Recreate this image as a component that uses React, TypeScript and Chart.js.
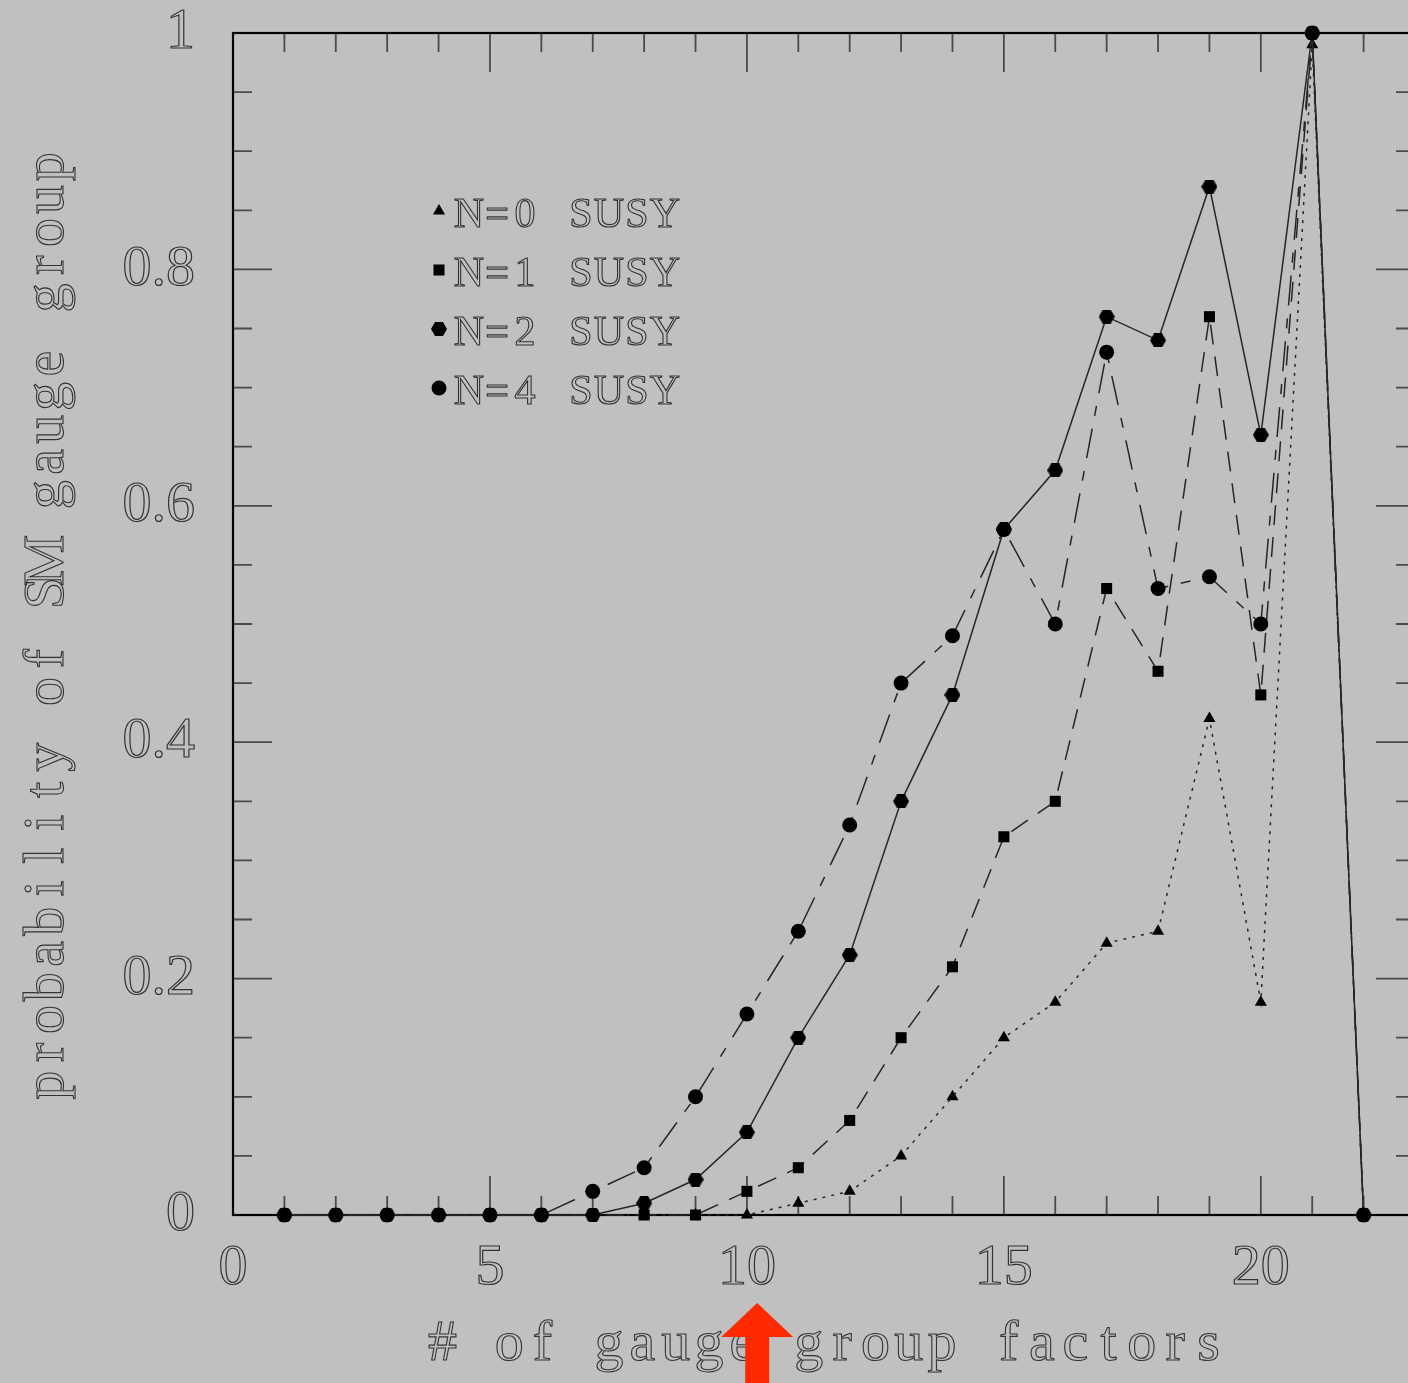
import React, { useEffect, useRef } from 'react';
import { Chart, registerables } from 'chart.js';
import { drawPoint } from 'chart.js/helpers';

Chart.register(...registerables);

// Number of gauge group factors on the horizontal axis
const factorCounts = [1, 2, 3, 4, 5, 6, 7, 8, 9, 10, 11, 12, 13, 14, 15, 16, 17, 18, 19, 20, 21, 22];

// Probability of obtaining the SM gauge group, per supersymmetry
const susyN0 = [0, 0, 0, 0, 0, 0, 0, 0, 0, 0, 0.01, 0.02, 0.05, 0.10, 0.15, 0.18, 0.23, 0.24, 0.42, 0.18, 0.99, 0];
const susyN1 = [0, 0, 0, 0, 0, 0, 0, 0, 0, 0.02, 0.04, 0.08, 0.15, 0.21, 0.32, 0.35, 0.53, 0.46, 0.76, 0.44, 1.0, 0];
const susyN2 = [0, 0, 0, 0, 0, 0, 0, 0.01, 0.03, 0.07, 0.15, 0.22, 0.35, 0.44, 0.58, 0.63, 0.76, 0.74, 0.87, 0.66, 1.0, 0];
const susyN4 = [0, 0, 0, 0, 0, 0, 0.02, 0.04, 0.10, 0.17, 0.24, 0.33, 0.45, 0.49, 0.58, 0.50, 0.73, 0.53, 0.54, 0.50, 1.0, 0];

const seriesLabels = ['N=0 SUSY', 'N=1 SUSY', 'N=2 SUSY', 'N=4 SUSY'];

const xTickValues = [0, 5, 10, 15, 20];
const yTickValues = [0, 0.2, 0.4, 0.6, 0.8, 1];
const xRange = [0, 23];
const yRange = [0, 1];
const xMinorStep = 1;
const yMinorStep = 0.05;

const xTitle = '# of gauge group factors';
const yTitle = 'probability of SM gauge group';

// marker for the highlighted factor count
const arrowValue = 10.2;

const W = 1432;
const H = 1383;
const SERIF = '"Liberation Serif", "DejaVu Serif", serif';
const INK = '#333333';

function makeHexagon(): HTMLCanvasElement {
  const c = document.createElement('canvas');
  c.width = 16;
  c.height = 14;
  const g = c.getContext('2d')!;
  const r = 8;
  const cx = 8;
  const cy = 7;
  g.fillStyle = '#000';
  g.beginPath();
  for (let k = 0; k < 6; k++) {
    const a = (Math.PI / 3) * k;
    const px = cx + r * Math.cos(a);
    const py = cy + r * Math.sin(a);
    if (k === 0) g.moveTo(px, py);
    else g.lineTo(px, py);
  }
  g.closePath();
  g.fill();
  return c;
}

// draws a string one glyph per fixed-width cell
function spacedText(ctx: CanvasRenderingContext2D, text: string, cx: number, baseline: number, pitch: number) {
  const n = text.length;
  const start = cx - ((n - 1) * pitch) / 2;
  for (let i = 0; i < n; i++) {
    const ch = text[i];
    if (ch === ' ') continue;
    ctx.strokeText(ch, start + i * pitch, baseline);
  }
}

const framePlugin = {
  id: 'frameTicks',
  beforeDatasetsDraw(chart: any) {
    const { ctx, chartArea: a, scales } = chart;
    const xs = scales.x;
    const ys = scales.y;
    const major = 39;
    const minor = 19;
    ctx.save();
    ctx.strokeStyle = '#4a4a4a';
    ctx.lineWidth = 1.8;
    ctx.beginPath();
    for (let v = xRange[0]; v <= xRange[1] + 1e-9; v += xMinorStep) {
      const px = xs.getPixelForValue(v);
      const len = xTickValues.includes(v) ? major : minor;
      ctx.moveTo(px, a.top);
      ctx.lineTo(px, a.top + len);
      ctx.moveTo(px, a.bottom);
      ctx.lineTo(px, a.bottom - len);
    }
    const steps = Math.round((yRange[1] - yRange[0]) / yMinorStep);
    for (let k = 0; k <= steps; k++) {
      const v = yRange[0] + k * yMinorStep;
      const py = ys.getPixelForValue(v);
      const isMajor = yTickValues.some((t) => Math.abs(t - v) < 1e-6);
      const len = isMajor ? major : minor;
      ctx.moveTo(a.left, py);
      ctx.lineTo(a.left + len, py);
      ctx.moveTo(a.right, py);
      ctx.lineTo(a.right - len, py);
    }
    ctx.stroke();
    ctx.strokeStyle = '#000';
    ctx.lineWidth = 2.2;
    ctx.strokeRect(a.left, a.top, a.right - a.left, a.bottom - a.top);
    ctx.restore();
  },
  afterDraw(chart: any) {
    const { ctx, scales } = chart;
    ctx.save();
    ctx.strokeStyle = INK;
    ctx.lineWidth = 1.1;
    ctx.textAlign = 'center';
    ctx.textBaseline = 'alphabetic';

    // legend
    ctx.font = `42px ${SERIF}`;
    chart.data.datasets.forEach((ds: any, i: number) => {
      const y = 211 + i * 59;
      ctx.fillStyle = '#000';
      drawPoint(ctx, { pointStyle: ds.pointStyle, radius: ds.pointRadius, rotation: 0, borderWidth: 0 } as any, 439, y);
      const label: string = ds.label;
      const pitch = 28;
      const cx = 469 + ((label.length - 1) * pitch) / 2;
      spacedText(ctx, label, cx, y + 16, pitch);
    });

    // axis titles
    ctx.font = `58px ${SERIF}`;
    spacedText(ctx, xTitle, 825.5, 1360, 33.3);
    ctx.save();
    ctx.translate(63, 626);
    ctx.rotate(-Math.PI / 2);
    spacedText(ctx, yTitle, 0, 0, 32.8);
    ctx.restore();

    // arrow
    const ax = scales.x.getPixelForValue(arrowValue);
    ctx.fillStyle = '#ff2a00';
    ctx.beginPath();
    ctx.moveTo(ax, 1303);
    ctx.lineTo(ax + 36, 1337);
    ctx.lineTo(ax + 12, 1337);
    ctx.lineTo(ax + 12, H + 2);
    ctx.lineTo(ax - 12, H + 2);
    ctx.lineTo(ax - 12, 1337);
    ctx.lineTo(ax - 36, 1337);
    ctx.closePath();
    ctx.fill();
    ctx.restore();
  },
};

function toPoints(values: number[]) {
  return values.map((v, i) => ({ x: factorCounts[i], y: v }));
}

export default function App() {
  const ref = useRef<HTMLCanvasElement | null>(null);

  useEffect(() => {
    if (!ref.current) return;
    const hex = makeHexagon();
    const lineColor = '#262626';
    const common = {
      borderColor: lineColor,
      borderWidth: 1.5,
      pointBackgroundColor: '#000',
      pointBorderWidth: 0,
      pointHoverRadius: 0,
      tension: 0,
      clip: false as any,
      fill: false,
    };
    const tickFont = { family: SERIF, size: 58, lineHeight: 1 };

    const chart = new Chart(ref.current, {
      type: 'line',
      data: {
        datasets: [
          { ...common, label: seriesLabels[0], data: toPoints(susyN0), borderDash: [3, 6], pointStyle: 'triangle', pointRadius: 7, order: 4 },
          { ...common, label: seriesLabels[1], data: toPoints(susyN1), borderDash: [20, 12], pointStyle: 'rect', pointRadius: 7.8, order: 3 },
          { ...common, label: seriesLabels[2], data: toPoints(susyN2), borderDash: [], pointStyle: hex as any, pointRadius: 8, order: 2 },
          { ...common, label: seriesLabels[3], data: toPoints(susyN4), borderDash: [30, 13, 10, 13], pointStyle: 'circle', pointRadius: 7.5, order: 1 },
        ] as any,
      },
      options: {
        responsive: false,
        animation: false,
        devicePixelRatio: 1,
        events: [],
        layout: { padding: { top: 33, right: W - 1415, left: 0, bottom: 0 } },
        plugins: { legend: { display: false }, tooltip: { enabled: false }, title: { display: false } },
        scales: {
          x: {
            type: 'linear',
            min: xRange[0],
            max: xRange[1],
            grid: { display: false, drawTicks: false },
            border: { display: false },
            afterBuildTicks: (s: any) => {
              s.ticks = xTickValues.map((v) => ({ value: v }));
            },
            afterFit: (s: any) => {
              s.height = H - 1215;
              s.paddingLeft = 0;
              s.paddingRight = 0;
            },
            ticks: {
              font: tickFont,
              color: 'transparent',
              textStrokeColor: INK,
              textStrokeWidth: 1.2,
              padding: 25,
              maxRotation: 0,
              autoSkip: false,
              callback: (v: any) => String(v),
            } as any,
          },
          y: {
            type: 'linear',
            min: yRange[0],
            max: yRange[1],
            grid: { display: false, drawTicks: false },
            border: { display: false },
            afterBuildTicks: (s: any) => {
              s.ticks = yTickValues.map((v) => ({ value: v }));
            },
            afterFit: (s: any) => {
              s.width = 233;
              s.paddingTop = 0;
              s.paddingBottom = 0;
            },
            ticks: {
              font: tickFont,
              color: 'transparent',
              textStrokeColor: INK,
              textStrokeWidth: 1.2,
              padding: 38,
              autoSkip: false,
              callback: (v: any) => (v === 0 ? '0' : v === 1 ? '1' : Number(v).toFixed(1)),
            } as any,
          },
        },
      },
      plugins: [framePlugin],
    });
    return () => chart.destroy();
  }, []);

  return (
    <div
      style={{
        position: 'fixed',
        left: 0,
        top: 0,
        width: 1408,
        height: H,
        overflow: 'hidden',
        background: '#c0c0c0',
      }}
    >
      <canvas ref={ref} width={W} height={H} style={{ display: 'block', width: W, height: H }} />
    </div>
  );
}
